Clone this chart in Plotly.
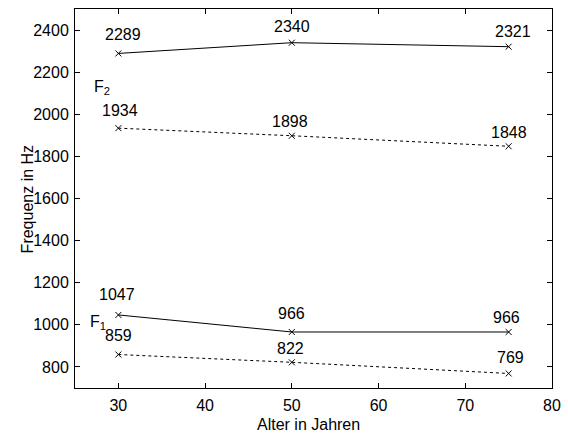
import plotly.graph_objects as go

ages = [30, 50, 75]
f2_solid = [2289, 2340, 2321]
f2_dashed = [1934, 1898, 1848]
f1_solid = [1047, 966, 966]
f1_dashed = [859, 822, 769]

x_ticks = [30, 40, 50, 60, 70, 80]
y_ticks = [800, 1000, 1200, 1400, 1600, 1800, 2000, 2200, 2400]

FONT = "Arial, Liberation Sans, sans-serif"

# label offsets in pixels (styling only): (xshift, yshift) per point
label_offsets = [
    [(5, 19), (0, 16), (4, 15)],
    [(2, 18), (-2, 14), (0, 14)],
    [(-1, 20), (0, 18), (-2, 14)],
    [(0, 19), (-1, 14), (2, 16)],
]

fig = go.Figure()
series = [(f2_solid, "solid"), (f2_dashed, "3px,3px"), (f1_solid, "solid"), (f1_dashed, "3px,3px")]
for (vals, dash), offs in zip(series, label_offsets):
    fig.add_trace(go.Scatter(
        x=ages, y=vals, mode="lines+markers",
        line=dict(color="black", width=1, dash=dash),
        marker=dict(symbol="x-thin", size=6, line=dict(color="black", width=1)),
        showlegend=False, hoverinfo="skip",
    ))
    for xv, yv, (dx, dy) in zip(ages, vals, offs):
        fig.add_annotation(x=xv, y=yv, text=str(yv), showarrow=False,
                           xshift=dx, yshift=dy,
                           font=dict(family=FONT, size=16, color="black"))

fig.add_annotation(x=28.1, y=2125, text="F<sub>2</sub>", showarrow=False,
                   font=dict(family=FONT, size=16, color="black"))
fig.add_annotation(x=27.6, y=1012, text="F<sub>1</sub>", showarrow=False,
                   font=dict(family=FONT, size=16, color="black"))

# axis titles
fig.add_annotation(xref="paper", yref="paper", x=0.49, y=-(424 - 388) / 379,
                   yanchor="middle", text="Alter in Jahren", showarrow=False,
                   font=dict(family=FONT, size=16, color="black"))
fig.add_annotation(xref="paper", yref="paper", x=(27 - 75) / 486, y=0.5,
                   xanchor="center", yanchor="middle", textangle=-90,
                   text="Frequenz in Hz", showarrow=False,
                   font=dict(family=FONT, size=16, color="black"))

axis_common = dict(showline=True, linecolor="black", linewidth=1, mirror="ticks",
                   ticks="inside", ticklen=5, tickcolor="black", tickwidth=1,
                   showgrid=False, zeroline=False, ticklabeloverflow="allow",
                   tickfont=dict(family=FONT, size=16, color="black"))

fig.update_xaxes(range=[25, 80], tickvals=x_ticks, ticklabelstandoff=3, **axis_common)
fig.update_yaxes(range=[700, 2500], tickvals=y_ticks, ticklabelstandoff=2, **axis_common)

fig.update_layout(width=568, height=433, margin=dict(l=75, r=7, t=9, b=45),
                  plot_bgcolor="white", paper_bgcolor="white")

fig.write_html("out.html", config={"displayModeBar": False},
               post_script="document.body.style.margin='0';document.body.style.overflow='hidden';")
